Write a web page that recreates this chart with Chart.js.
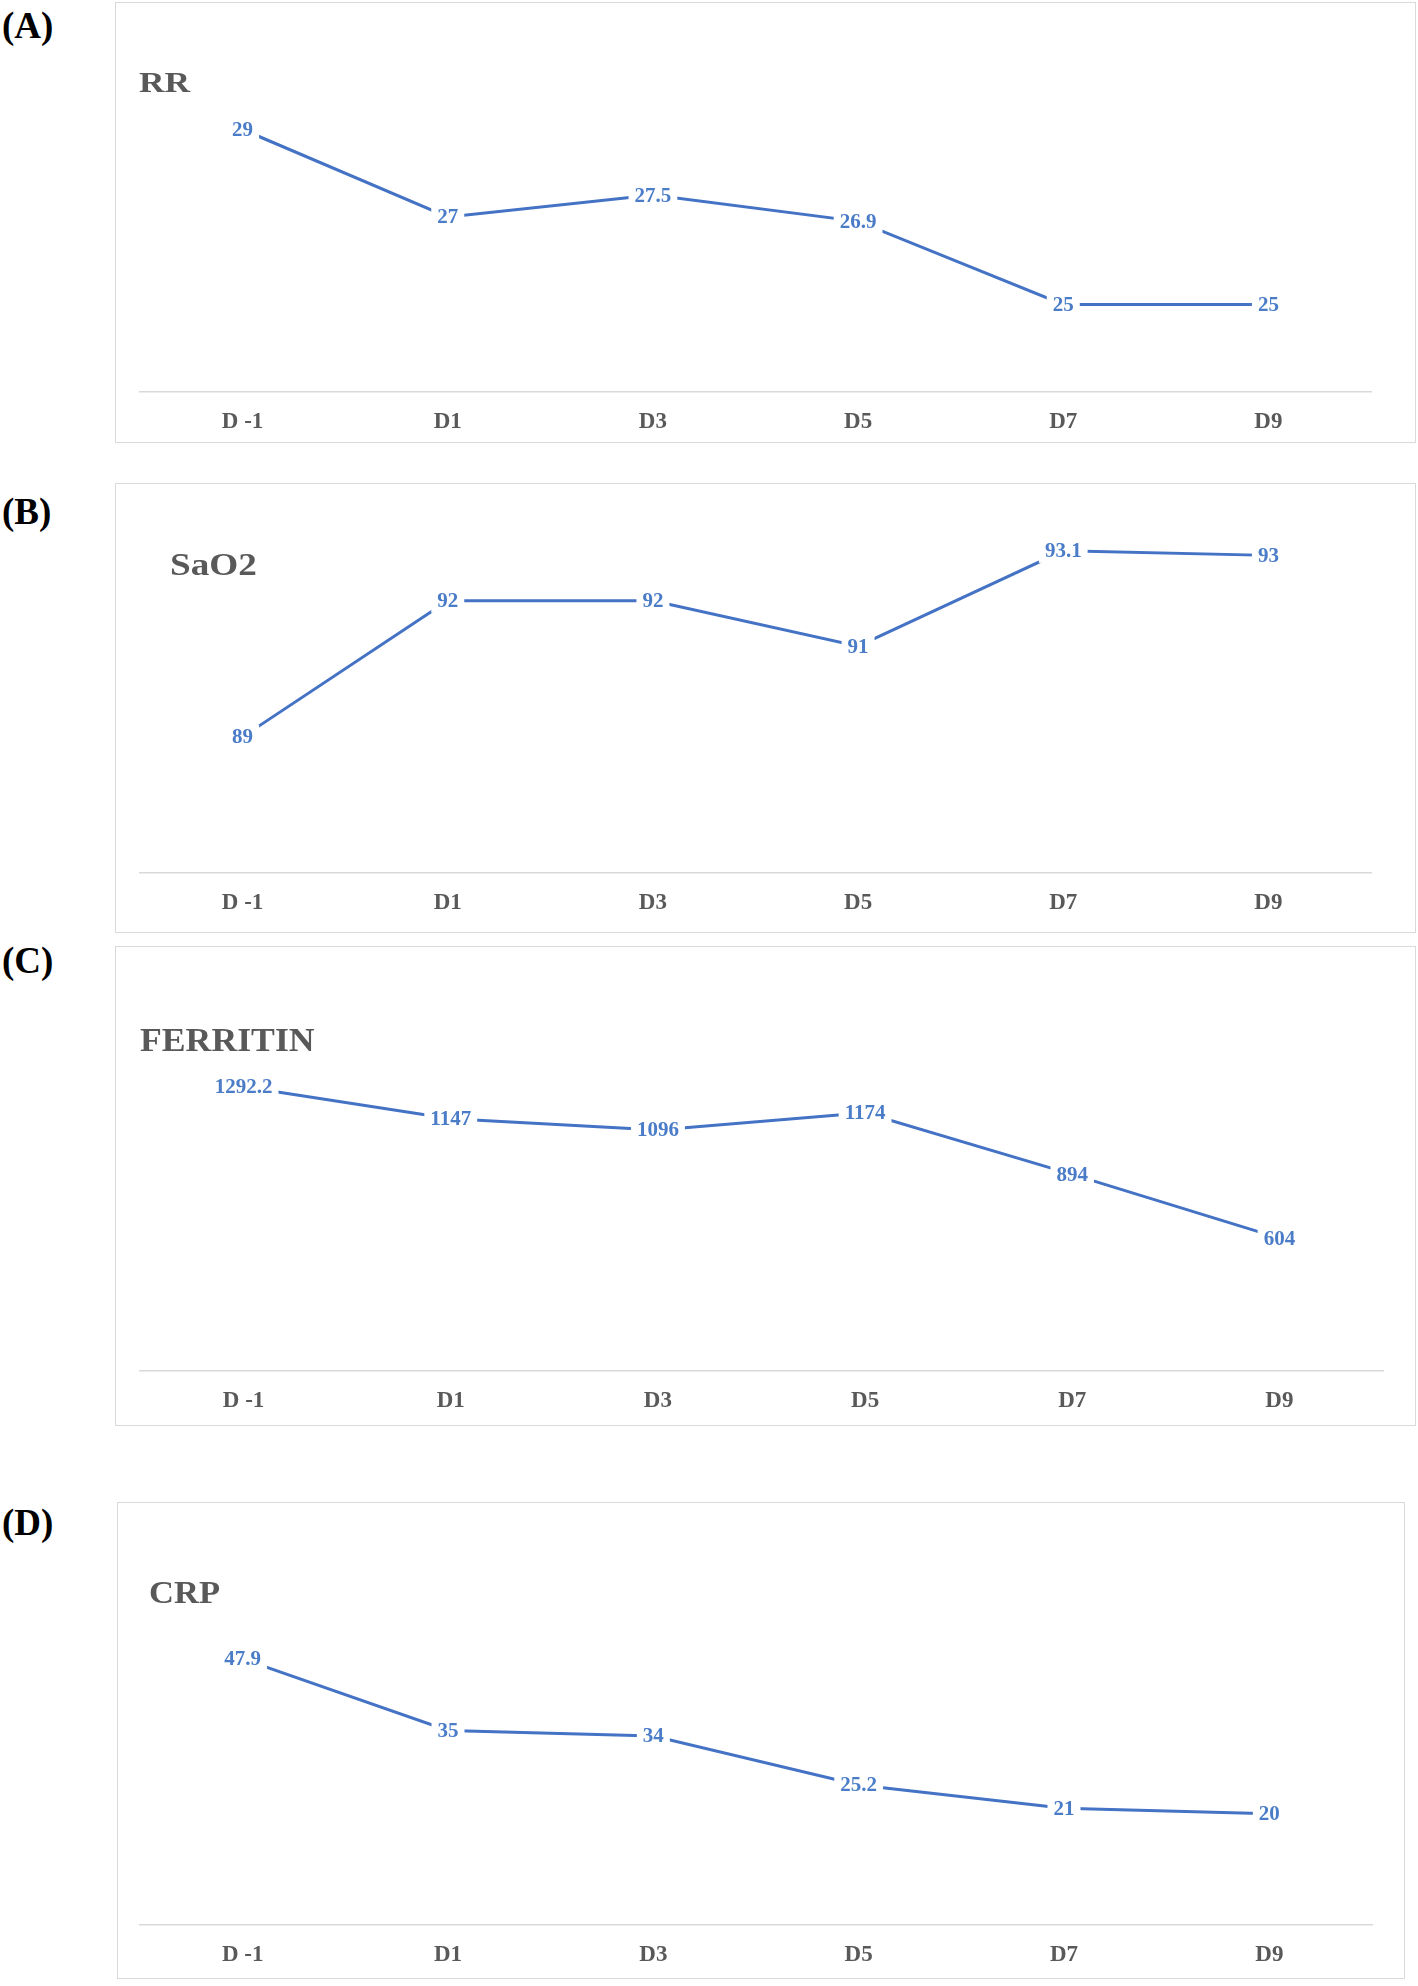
<!DOCTYPE html>
<html>
<head>
<meta charset="utf-8">
<script src="https://cdn.jsdelivr.net/npm/chart.js@4.4.1/dist/chart.umd.min.js"></script>
<style>
  body { margin: 0; background: #fff; width: 1418px; height: 1986px; position: relative; overflow: hidden; }
  .box { position: absolute; border: 1.5px solid #d9d9d9; box-sizing: border-box; }
  .box canvas { position: absolute; left: 0; top: 0; }
  .tag { position: absolute; font: bold 37px "Liberation Serif", serif; line-height: 1; color: #000; }
  .ttl { position: absolute; font-family: "Liberation Serif", serif; font-weight: bold; line-height: 1; color: #595959; transform-origin: left top; }
</style>
</head>
<body>

<div class="tag" style="left:2px;top:7px">(A)</div>
<div class="tag" style="left:2px;top:493px">(B)</div>
<div class="tag" style="left:2px;top:942px">(C)</div>
<div class="tag" style="left:2px;top:1504px">(D)</div>

<div class="box" id="boxA" style="left:115px;top:2px;width:1301px;height:441px"><canvas id="chartA"></canvas></div>
<div class="box" id="boxB" style="left:115px;top:483px;width:1301px;height:450px"><canvas id="chartB"></canvas></div>
<div class="box" id="boxC" style="left:115px;top:946px;width:1301px;height:480px"><canvas id="chartC"></canvas></div>
<div class="box" id="boxD" style="left:117px;top:1502px;width:1288px;height:477px"><canvas id="chartD"></canvas></div>

<div class="ttl" style="left:139px;top:67px;font-size:30px;transform:scaleX(1.18)">RR</div>
<div class="ttl" style="left:170px;top:549px;font-size:31px;transform:scaleX(1.2)">SaO2</div>
<div class="ttl" style="left:140px;top:1023px;font-size:34px;transform:scaleX(1.05)">FERRITIN</div>
<div class="ttl" style="left:149px;top:1576px;font-size:32px;transform:scaleX(1.08)">CRP</div>

<script>
// days on the x axis
var days = ['D -1', 'D1', 'D3', 'D5', 'D7', 'D9']

// values
var rr = [29, 27, 27.5, 26.9, 25, 25]
var sao2 = [89, 92, 92, 91, 93.1, 93]
var ferritin = [1292.2, 1147, 1096, 1174, 894, 604]
var crp = [47.9, 35, 34, 25.2, 21, 20]

// hidden value axis ranges
var rrRange = [23, 31]
var sao2Range = [86, 94]
var ferritinRange = [0, 1600]
var crpRange = [0, 70]

var lineBlue = '#4472C4'
var labelBlue = '#4a7cc8'

// Excel-like data labels: white box over the point, value on top
var valueLabels = {
  id: 'valueLabels',
  afterDatasetsDraw: function (chart) {
    var ctx = chart.ctx
    var meta = chart.getDatasetMeta(0)
    var vals = chart.data.datasets[0].data
    ctx.save()
    ctx.font = 'bold 21px "Liberation Serif", serif'
    ctx.textAlign = 'center'
    ctx.textBaseline = 'middle'
    meta.data.forEach(function (pt, i) {
      var txt = String(vals[i])
      var w = ctx.measureText(txt).width
      ctx.fillStyle = '#fff'
      ctx.fillRect(pt.x - w / 2 - 6, pt.y - 12, w + 12, 24)
      ctx.fillStyle = labelBlue
      ctx.fillText(txt, pt.x, pt.y + 1)
    })
    ctx.restore()
  }
}

function makeChart(id, values, range, pad, axisGap) {
  var box = document.getElementById('box' + id)
  var c = document.getElementById('chart' + id)
  c.width = box.clientWidth
  c.height = box.clientHeight
  return new Chart(c.getContext('2d'), {
    type: 'line',
    data: {
      labels: days,
      datasets: [{
        data: values,
        borderColor: lineBlue,
        borderWidth: 3,
        pointRadius: 0,
        tension: 0,
        fill: false,
        clip: false
      }]
    },
    options: {
      responsive: false,
      animation: false,
      events: [],
      layout: { padding: pad },
      plugins: { legend: { display: false }, tooltip: { enabled: false } },
      scales: {
        x: {
          offset: true,
          grid: { display: false, drawTicks: false },
          border: { display: true, color: '#d9d9d9', width: 1.5 },
          ticks: {
            color: '#595959',
            padding: 16,
            maxRotation: 0,
            font: { family: '"Liberation Serif", serif', size: 23, weight: 'bold' }
          },
          afterFit: function (s) { s.height = axisGap }
        },
        y: { display: false, min: range[0], max: range[1] }
      }
    },
    plugins: [valueLabels]
  })
}

makeChart('A', rr, rrRange, { left: 24, right: 44, top: 39, bottom: 0 }, 50)
makeChart('B', sao2, sao2Range, { left: 24, right: 44, top: 26, bottom: 0 }, 59)
makeChart('C', ferritin, ferritinRange, { left: 24, right: 32, top: 72, bottom: 0 }, 54)
makeChart('D', crp, crpRange, { left: 22, right: 32, top: 33, bottom: 0 }, 53)
</script>
</body>
</html>
